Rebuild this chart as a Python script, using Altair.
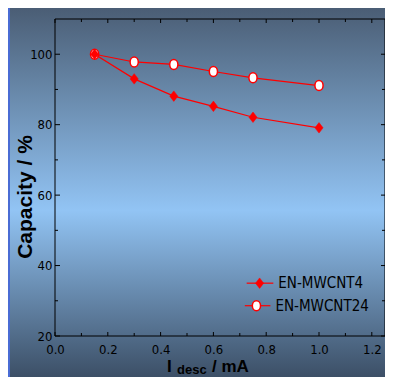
import altair as alt
import pandas as pd

# ---- data ----
current_mA = [0.15, 0.3, 0.45, 0.6, 0.75, 1.0]
cap_mwcnt4 = [100, 93.0, 88.1, 85.2, 82.1, 79.1]
cap_mwcnt24 = [100, 97.8, 97.1, 95.1, 93.3, 91.1]
series_names = ["EN-MWCNT4", "EN-MWCNT24"]

x_major = [0.0, 0.2, 0.4, 0.6, 0.8, 1.0, 1.2]
x_minor = [0.1, 0.3, 0.5, 0.7, 0.9, 1.1]
y_major = [20, 40, 60, 80, 100]
y_minor = [30, 50, 70, 90]

W, H = 330, 317
RED = "#ff0000"
NARROW = "DejaVu Sans Condensed"
BOLD = "Liberation Sans"

df4 = pd.DataFrame({"x": current_mA, "y": cap_mwcnt4})
df24 = pd.DataFrame({"x": current_mA, "y": cap_mwcnt24})
one = pd.DataFrame({"a": [0]})

xs = alt.Scale(domain=[0, 1.25], nice=False, zero=False)
ys = alt.Scale(domain=[20, 110], nice=False, zero=False)
xax = alt.Axis(values=x_major, format=".1f", title=None, ticks=False, grid=False,
               domain=False, labelFont=NARROW, labelFontSize=13, labelColor="black",
               labelPadding=7, zindex=1, labelFlush=False, labelOverlap=False)
yax = alt.Axis(values=y_major, format="d", title=None, ticks=False, grid=False,
               domain=False, labelFont=NARROW, labelFontSize=13, labelColor="black",
               labelPadding=3, zindex=1, labelOverlap=False)
X = lambda: alt.X("x:Q", scale=xs, axis=xax)
Y = lambda: alt.Y("y:Q", scale=ys, axis=yax)

panel = alt.Chart(one).mark_rect(
    fill=alt.Gradient(
        gradient="linear", x1=0, x2=0, y1=0, y2=1,
        stops=[alt.GradientStop(offset=0, color="#4a5d74"),
               alt.GradientStop(offset=0.55, color="#92c4f4"),
               alt.GradientStop(offset=1, color="#3c4f66")])
).encode(x=alt.value(-45), x2=alt.value(W), y=alt.value(-12), y2=alt.value(H + 41))

tick_style = dict(color="black", strokeWidth=1)
ymaj = pd.DataFrame({"y": y_major})
ymin = pd.DataFrame({"y": y_minor})
xmaj = pd.DataFrame({"x": x_major})
xmin = pd.DataFrame({"x": x_minor})
ticks = [
    alt.Chart(ymaj).mark_rule(**tick_style).encode(y=Y(), x=alt.value(0), x2=alt.value(5)),
    alt.Chart(ymin).mark_rule(**tick_style).encode(y=Y(), x=alt.value(0), x2=alt.value(3)),
    alt.Chart(ymaj).mark_rule(**tick_style).encode(y=Y(), x=alt.value(W - 4), x2=alt.value(W)),
    alt.Chart(ymin).mark_rule(**tick_style).encode(y=Y(), x=alt.value(W - 3), x2=alt.value(W)),
    alt.Chart(xmaj).mark_rule(**tick_style).encode(x=X(), y=alt.value(H - 4), y2=alt.value(H)),
    alt.Chart(xmin).mark_rule(**tick_style).encode(x=X(), y=alt.value(H - 3), y2=alt.value(H)),
    alt.Chart(xmaj).mark_rule(**tick_style).encode(x=X(), y=alt.value(0), y2=alt.value(4)),
    alt.Chart(xmin).mark_rule(**tick_style).encode(x=X(), y=alt.value(0), y2=alt.value(3)),
]

DIAMOND = "M0,-1L0.78,0L0,1L-0.78,0Z"
ELLIPSE = "M0,-1A0.82,1 0 1,1 0,1A0.82,1 0 1,1 0,-1Z"

line24 = alt.Chart(df24).mark_line(color=RED, strokeWidth=1.2).encode(x=X(), y=Y())
pts24 = alt.Chart(df24).mark_point(shape=ELLIPSE, size=100, filled=True, fill="white",
                                   stroke=RED, strokeWidth=1.5, opacity=1).encode(x=X(), y=Y())
line4 = alt.Chart(df4).mark_line(color=RED, strokeWidth=1.2).encode(x=X(), y=Y())
pts4 = alt.Chart(df4).mark_point(shape=DIAMOND, size=110, filled=True, fill=RED,
                                 stroke=RED, strokeWidth=0.5, opacity=1).encode(x=X(), y=Y())

frame = alt.Chart(one).mark_rect(fillOpacity=0, stroke="black", strokeWidth=1).encode(
    x=alt.value(0), x2=alt.value(W), y=alt.value(0), y2=alt.value(H))

# legend (decoration)
leg = []
for name, ly, cx, lx1, lx2, tx, shape, fill, sz in [
        (series_names[0], 35.0, 0.775, 0.726, 0.827, 0.846, DIAMOND, RED, 110),
        (series_names[1], 28.6, 0.763, 0.719, 0.816, 0.835, ELLIPSE, "white", 100)]:
    leg.append(alt.Chart(one).mark_rule(color=RED, strokeWidth=1.2).encode(
        x=alt.datum(lx1, scale=xs), x2=alt.datum(lx2), y=alt.datum(ly, scale=ys)))
    leg.append(alt.Chart(one).mark_point(shape=shape, size=sz, filled=True, fill=fill,
                                         stroke=RED, strokeWidth=1.5 if fill == "white" else 0.5,
                                         opacity=1).encode(
        x=alt.datum(cx, scale=xs), y=alt.datum(ly, scale=ys)))
    leg.append(alt.Chart(one).mark_text(text=name, font=NARROW, fontSize=15, color="black",
                                        align="left", baseline="middle").encode(
        x=alt.datum(tx, scale=xs), y=alt.datum(ly, scale=ys)))

titles = [
    alt.Chart(one).mark_text(text="Capacity / %", font=BOLD, fontWeight="bold", fontSize=21,
                             angle=270, align="center", baseline="alphabetic", color="black"
                             ).encode(x=alt.value(-23), y=alt.value(178)),
    alt.Chart(one).mark_text(text="I", font=BOLD, fontWeight="bold", fontSize=17,
                             align="left", baseline="alphabetic", color="black"
                             ).encode(x=alt.value(112), y=alt.value(353)),
    alt.Chart(one).mark_text(text="desc", font=BOLD, fontWeight="bold", fontSize=13,
                             align="left", baseline="alphabetic", color="black"
                             ).encode(x=alt.value(122), y=alt.value(355)),
    alt.Chart(one).mark_text(text="/ mA", font=BOLD, fontWeight="bold", fontSize=17,
                             align="left", baseline="alphabetic", color="black"
                             ).encode(x=alt.value(157), y=alt.value(353)),
]

chart = alt.layer(panel, *ticks, line24, pts24, line4, pts4, frame, *leg, *titles).properties(
    width=W, height=H,
    autosize=alt.AutoSizeParams(type="none"),
    padding={"left": 47, "top": 11, "right": 0, "bottom": 41},
    background="#4a6cd4",
).configure_view(stroke="transparent")

chart.save("out.html", embed_options={"renderer": "svg", "actions": False})
